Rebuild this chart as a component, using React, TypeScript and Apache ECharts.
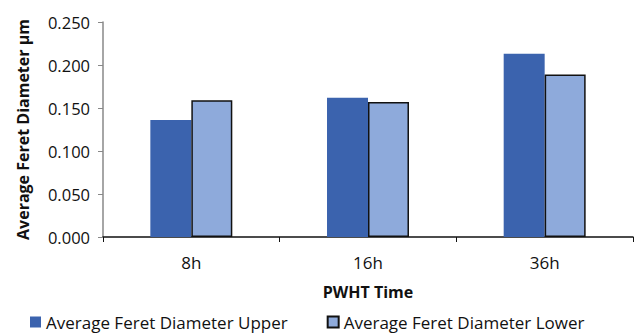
import React, { useEffect, useRef } from "react";
import * as echarts from "echarts";

const categories = ["8h", "16h", "36h"];
const upperValues = [0.136, 0.162, 0.213];
const lowerValues = [0.159, 0.157, 0.189];
const yTicks = { min: 0, max: 0.25, interval: 0.05 };

const FONT = "Open Sans";

export default function App() {
  const ref = useRef<HTMLDivElement>(null);
  useEffect(() => {
    const chart = echarts.init(ref.current!, undefined, { renderer: "svg" });
    chart.setOption({
      animation: false,
      backgroundColor: "#ffffff",
      textStyle: { fontFamily: FONT },
      grid: { left: 103, right: 3, top: 22, bottom: 97 },
      legend: {
        top: 313,
        left: 30,
        padding: 0,
        itemGap: 39,
        itemWidth: 11,
        itemHeight: 11,
        icon: "rect",
        textStyle: { fontFamily: FONT, fontSize: 17, lineHeight: 18, color: "#111" },
        data: ["Average Feret Diameter Upper", "Average Feret Diameter Lower"],
      },
      xAxis: {
        type: "category",
        data: categories,
        name: "PWHT Time",
        nameLocation: "middle",
        nameGap: 47,
        nameTextStyle: { fontFamily: FONT, fontSize: 16, fontWeight: "bold", color: "#111" },
        axisLine: { lineStyle: { color: "#111", width: 1.5 } },
        axisTick: { show: true, length: 5, lineStyle: { color: "#111" } },
        axisLabel: { fontFamily: FONT, fontSize: 17, color: "#111", margin: 17 },
      },
      yAxis: {
        type: "value",
        min: yTicks.min,
        max: yTicks.max,
        interval: yTicks.interval,
        name: "Average Feret Diameter µm",
        nameLocation: "middle",
        nameGap: 72,
        nameTextStyle: { fontFamily: FONT, fontSize: 16, fontWeight: "bold", color: "#111" },
        axisLine: { show: true, lineStyle: { color: "#888", width: 1.5 } },
        axisTick: { show: true, length: 5, lineStyle: { color: "#888" } },
        axisLabel: {
          fontFamily: FONT,
          fontSize: 16.5,
          color: "#111",
          margin: 13,
          formatter: (v: number) => v.toFixed(3),
        },
        splitLine: { show: false },
      },
      series: [
        {
          name: "Average Feret Diameter Upper",
          type: "bar",
          data: upperValues,
          barGap: "0%",
          barCategoryGap: "53.6%",
          itemStyle: { color: "#3B63AE" },
        },
        {
          name: "Average Feret Diameter Lower",
          type: "bar",
          data: lowerValues,
          itemStyle: { color: "#8EAADB", borderColor: "#111", borderWidth: 1.5 },
        },
      ],
    });
    return () => chart.dispose();
  }, []);
  return (
    <div
      ref={ref}
      style={{ position: "fixed", left: 0, top: 0, width: 636, height: 334 }}
    />
  );
}
